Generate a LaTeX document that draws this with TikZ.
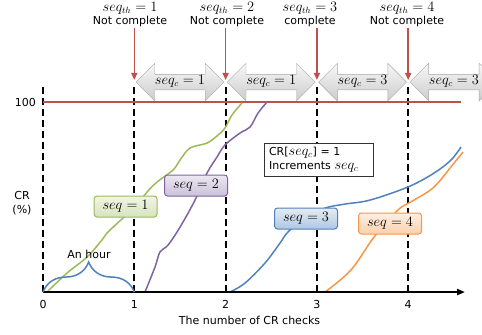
\documentclass[tikz,border=0pt]{standalone}
\usepackage{fontspec}
\setsansfont{DejaVu Sans}
\usetikzlibrary{shapes.arrows,arrows.meta,decorations.pathreplacing}

\definecolor{crred}{HTML}{C0504D}
\definecolor{crgreen}{HTML}{9BBB59}
\definecolor{crpurple}{HTML}{8064A2}
\definecolor{crblue}{HTML}{4F81BD}
\definecolor{crorange}{HTML}{F79646}

\newcommand{\seqmath}[1]{{\fontsize{13.5}{14}\selectfont$#1$}}

\tikzset{
  checkline/.style={black, line width=2pt, dash pattern=on 7pt off 4pt},
  thlabel/.style={align=center, anchor=south, inner sep=1pt, font=\sffamily\fontsize{11}{13}\selectfont},
  redarrow/.style={crred, line width=1.5pt, -{Triangle[length=7pt,width=6pt]}},
  seqarrow/.style={double arrow, draw=gray!70, top color=gray!6, bottom color=gray!40,
    double arrow head extend=11pt, minimum height=88pt, inner xsep=4pt, inner ysep=1.8pt,
    text height=8.5pt, text depth=3pt},
  seqbox/.style={rounded corners=3pt, line width=1pt, minimum width=63pt, minimum height=21pt, inner sep=0pt},
  crcurve/.style={line width=1.5pt, smooth, tension=0.55}
}

\begin{document}
\begin{tikzpicture}[x=91.3pt, y=1.9pt, font=\sffamily\fontsize{11}{14}\selectfont]
            \useasboundingbox (-0.471,-22.6) rectangle (4.808,153.7);

            % Draw Check Lines
            \draw[checkline] (0,0) -- (0,110);
            \draw[checkline] (1,0) -- (1,110);
            \draw[checkline] (2,0) -- (2,110);
            \draw[checkline] (3,0) -- (3,110);
            \draw[checkline] (4,0) -- (4,110);

            % Full CR line
            \draw[crred, line width=2pt] (0,100) -- (4.578,100);

            % CR Curves
            % -- seq = 1
            \draw[crcurve, crgreen] plot coordinates {(0.044,0) (0.263,10) (0.482,18.4) (0.646,27.4)
              (0.701,31.1) (0.876,38.9) (0.986,43.2) (1.139,52.6) (1.249,57.9) (1.424,64.2)
              (1.501,69.5) (1.610,75.8) (1.796,78.4) (1.917,82.6) (1.993,86.3) (2.070,93.2) (2.180,99.5)};
            % -- seq = 2
            \draw[crcurve, crpurple] plot coordinates {(1.117,0) (1.227,13.2) (1.281,21.1) (1.369,24.7)
              (1.501,34.2) (1.665,48.4) (1.796,62.6) (1.906,71.1) (1.993,77.4) (2.158,83.7)
              (2.267,86.8) (2.355,94.2) (2.453,100)};
            % -- seq = 3
            \draw[crcurve, crblue] plot coordinates {(2.048,0) (2.212,4.7) (2.432,15.3) (2.596,25.8)
              (2.683,31.6) (2.870,38.9) (3.089,44.2) (3.308,46.3) (3.581,48.4) (3.998,55.3)
              (4.283,62.6) (4.469,69.5) (4.578,76.3)};
            % -- seq = 4
            \draw[crcurve, crorange] plot coordinates {(3.089,0) (3.373,11.6) (3.625,28.9) (3.888,43.2)
              (4.064,48.4) (4.283,55.3) (4.502,67.9) (4.600,73.7)};

            % Draw Axis
            \draw[line width=2pt, -{Triangle[length=8pt,width=6pt]}] (0,0) -- (4.622,0);

            % Axis Labels
            \node (t0) at (0,-6.3) {0};
            \node (t1) at (1,-6.3) {1};
            \node (t2) at (2,-6.3) {2};
            \node (t3) at (3,-6.3) {3};
            \node (t4) at (4,-6.3) {4};
            \node (xtitle) at (2.262,-14.7) {The number of CR checks};
            \node[align=center] (ytitle) at (-0.23,46.6) {CR\\(\%)};
            \node[anchor=east, inner sep=0pt] (full) at (-0.077,100) {100};

            % An hour
            \draw[crblue, line width=1.5pt, decorate, decoration={brace, amplitude=30pt}] (0,0) -- (1,0);
            \node (hour) at (0.504,20) {An hour};

            % Threshold Labels
            \node[thlabel] (th1) at (0.953,138.9) {\seqmath{seq_{th}=1}\\Not complete};
            \node[thlabel] (th2) at (2.015,138.9) {\seqmath{seq_{th}=2}\\Not complete};
            \node[thlabel] (th3) at (2.924,138.9) {\seqmath{seq_{th}=3}\\complete};
            \node[thlabel] (th4) at (3.987,138.9) {\seqmath{seq_{th}=4}\\Not complete};

            \coordinate (tip1) at (1,111.6);
            \coordinate (tip2) at (2,111.6);
            \coordinate (tip3) at (3,111.6);
            \coordinate (tip4) at (4,111.6);

            \draw[redarrow] (th1.south -| tip1) -- (tip1);
            \draw[redarrow] (th2.south -| tip2) -- (tip2);
            \draw[redarrow] (th3.south -| tip3) -- (tip3);
            \draw[redarrow] (th4.south -| tip4) -- (tip4);

            % Current Sequence Arrows
            \node[seqarrow] (sc1) at (1.5,110.5) {\seqmath{seq_c=1}};
            \node[seqarrow] (sc2) at (2.5,110.5) {\seqmath{seq_c=1}};
            \node[seqarrow] (sc3) at (3.5,110.5) {\seqmath{seq_c=3}};
            \node[seqarrow] (sc4) at (4.5,110.5) {\seqmath{seq_c=3}};

            % Sequence Boxes
            \node[seqbox, draw=crgreen, top color=crgreen!15, bottom color=crgreen!40] (seq1) at (0.904,45) {\seqmath{seq=1}};
            \node[seqbox, draw=crpurple, top color=crpurple!15, bottom color=crpurple!40] (seq2) at (1.676,56.05) {\seqmath{seq=2}};
            \node[seqbox, draw=crblue, top color=crblue!15, bottom color=crblue!45] (seq3) at (2.881,38.7) {\seqmath{seq=3}};
            \node[seqbox, draw=crorange, top color=crorange!15, bottom color=crorange!45] (seq4) at (3.801,36.05) {\seqmath{seq=4}};

            % Increment Note
            \node[draw=black!80, fill=white, line width=1pt, align=left, text width=99pt,
              inner xsep=5pt, inner ysep=3pt, minimum height=33pt] (crbox) at (3.018,69.7)
              {CR[\seqmath{seq_c}] = 1\\Increments \seqmath{seq_c}};
        \end{tikzpicture}
\end{document}
